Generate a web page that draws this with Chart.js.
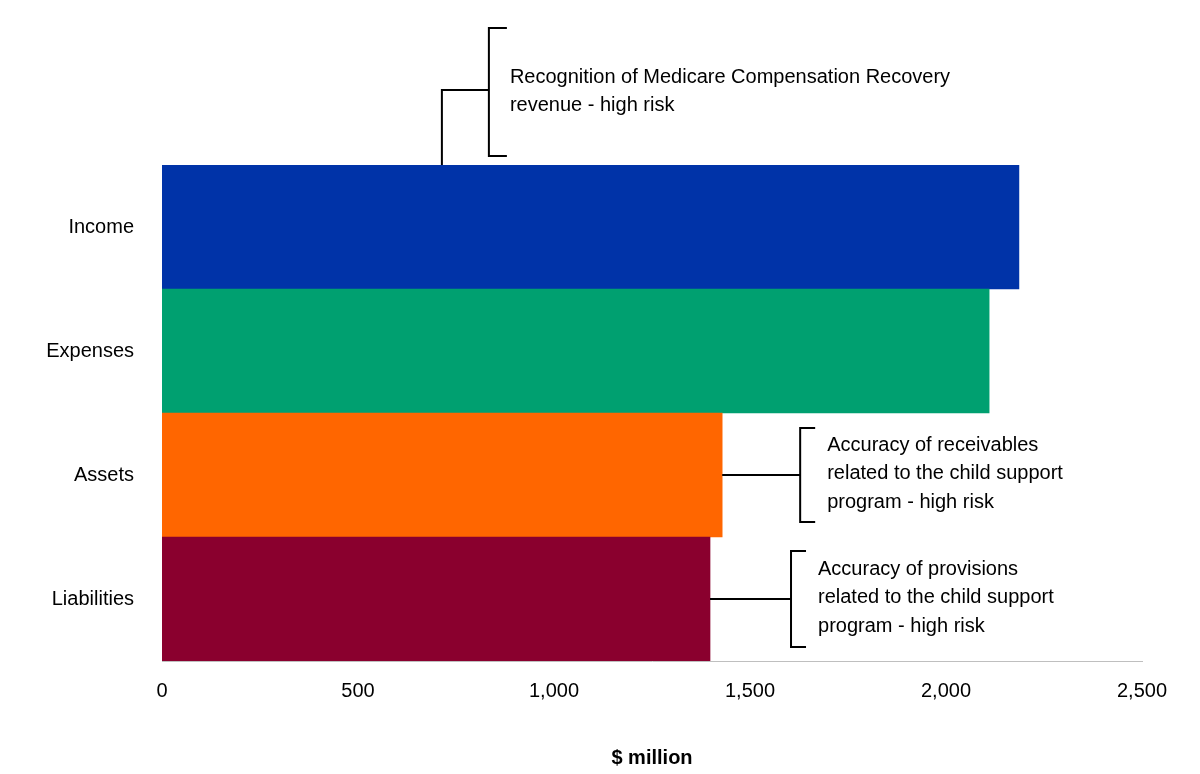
<!DOCTYPE html>
<html>
<head>
<meta charset="utf-8">
<script src="https://cdn.jsdelivr.net/npm/chart.js@4"></script>
<style>
  body { margin: 0; background: #fff; }
  #wrap { width: 1200px; height: 774px; }
</style>
</head>
<body>
<div id="wrap"><canvas id="chart"></canvas></div>
<script>
// Chart data
const categories = ['Income', 'Expenses', 'Assets', 'Liabilities'];
const values = [2186, 2110, 1429, 1398];
const barColors = ['#0033a8', '#00a070', '#ff6600', '#8a002e'];
const xTicks = [0, 500, 1000, 1500, 2000, 2500];

const FONT = 'Liberation Sans, Arial, sans-serif';

// Bracket callouts drawn on top of the bars
const calloutPlugin = {
    id: 'callouts',
    afterDraw(chart) {
        const ctx = chart.ctx;
        const x = chart.scales.x, y = chart.scales.y;
        const top = chart.chartArea.top;
        ctx.save();
        ctx.strokeStyle = '#000';
        ctx.lineWidth = 2;
        ctx.fillStyle = '#000';
        ctx.font = '20px ' + FONT;
        ctx.textBaseline = 'middle';

        // Income callout: stem up from the bar top
        const sx = x.getPixelForValue(714);
        const bx = sx + 47;
        ctx.beginPath();
        ctx.moveTo(sx, top); ctx.lineTo(sx, 90); ctx.lineTo(bx, 90);
        ctx.moveTo(bx + 18, 28); ctx.lineTo(bx, 28); ctx.lineTo(bx, 156); ctx.lineTo(bx + 18, 156);
        ctx.stroke();
        ctx.fillText('Recognition of Medicare Compensation Recovery', bx + 21, 77);
        ctx.fillText('revenue - high risk', bx + 21, 105);

        // side callouts
        const side = (idx, gap, half, lines) => {
            const ex = x.getPixelForValue(values[idx]);
            const cy = y.getPixelForValue(idx);
            const bx2 = ex + gap;
            ctx.beginPath();
            ctx.moveTo(ex, cy); ctx.lineTo(bx2, cy);
            ctx.moveTo(bx2 + 15, cy - half); ctx.lineTo(bx2, cy - half);
            ctx.lineTo(bx2, cy + half); ctx.lineTo(bx2 + 15, cy + half);
            ctx.stroke();
            lines.forEach((t, i) => ctx.fillText(t, bx2 + 27, cy - 30 + i * 28.5));
        };
        side(2, 78, 47, ['Accuracy of receivables', 'related to the child support', 'program - high risk']);
        side(3, 81, 48, ['Accuracy of provisions', 'related to the child support', 'program - high risk']);
        ctx.restore();
    }
};

new Chart(document.getElementById('chart'), {
    type: 'bar',
    data: {
        labels: categories,
        datasets: [{
            data: values,
            backgroundColor: barColors,
            barPercentage: 1,
            categoryPercentage: 1
        }]
    },
    options: {
        indexAxis: 'y',
        responsive: true,
        maintainAspectRatio: false,
        animation: false,
        layout: { padding: { top: 165, right: 58, left: 0, bottom: 0 } },
        plugins: { legend: { display: false }, tooltip: { enabled: false } },
        scales: {
            x: {
                min: 0, max: 2500,
                afterBuildTicks: s => { s.ticks = xTicks.map(v => ({ value: v })); },
                afterFit: s => { s.height = 113; },
                grid: { display: false, drawTicks: false },
                border: { color: '#bfbfbf', width: 1 },
                ticks: {
                    color: '#000', padding: 18,
                    font: { family: FONT, size: 20 },
                    callback: v => v.toLocaleString('en-US')
                },
                title: {
                    display: true, text: '$ million', color: '#000',
                    font: { family: FONT, size: 20, weight: 'bold' },
                    padding: { top: 22 }
                }
            },
            y: {
                afterFit: s => { s.width = 162; },
                grid: { display: false, drawTicks: false },
                border: { display: false },
                ticks: { color: '#000', padding: 28, font: { family: FONT, size: 20 } }
            }
        }
    },
    plugins: [calloutPlugin]
});
</script>
</body>
</html>
